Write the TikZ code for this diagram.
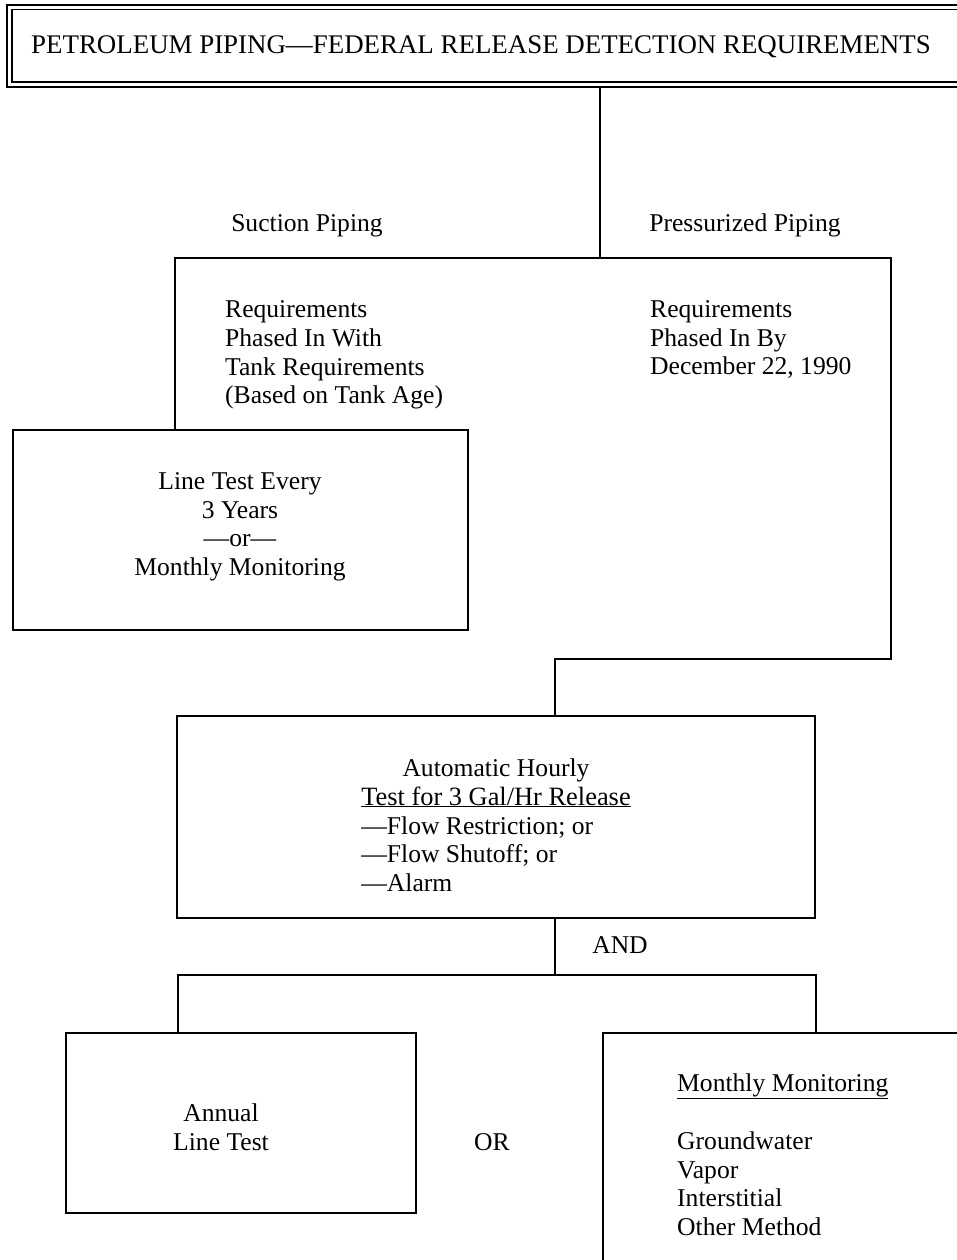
\documentclass[tikz,border=0pt]{standalone}
\usepackage{fontspec}
\setmainfont{Liberation Serif}
\begin{document}
\begin{tikzpicture}[x=1pt,y=-1pt,
  box/.style={draw, line width=2pt, inner sep=0pt},
  txt/.style={inner sep=0pt, anchor=base, font=\fontsize{25.6}{29}\selectfont},
  txtl/.style={txt, anchor=base west},
  ln/.style={line width=2pt}]
\useasboundingbox (0,0) rectangle (957,1260);
\begin{scope}
\clip (0,0) rectangle (957,1260);
% title
\node[box, line width=2.5pt, minimum width=968pt, minimum height=82pt] (title) at (491,46) {};
\draw[line width=1.5pt] ([shift={(6pt,-6pt)}]title.north west) rectangle ([shift={(-6pt,6pt)}]title.south east);
\node[txt, font=\fontsize{26.9}{29}\selectfont] (titletext) at (481,54) {PETROLEUM PIPING—FEDERAL RELEASE DETECTION REQUIREMENTS};
% boxes
\node[box, minimum width=455pt, minimum height=200pt] (linetest) at (240.5,530) {};
\node[box, minimum width=638pt, minimum height=202pt] (middle) at (496,817) {};
\node[box, minimum width=350pt, minimum height=180pt] (annual) at (241,1123) {};
\node[box, minimum width=377pt, minimum height=257pt] (monthly) at (791.5,1161.5) {};
% connectors
\coordinate (split) at (600,258);
\coordinate (lx) at (175,258);
\coordinate (c1) at (891,258);
\coordinate (c2) at (891,659);
\coordinate (c3) at (555,659);
\draw[ln] (title.south -| split) -- (split);
\draw[ln] (linetest.north -| lx) -- (lx) -- (c1) -- (c2) -- (c3) -- (middle.north -| c3);
\coordinate (b) at (555,975);
\coordinate (bl) at (178,975);
\coordinate (br) at (816,975);
\draw[ln] (middle.south -| b) -- (b);
\draw[ln] (annual.north -| bl) -- (bl) -- (br) -- (monthly.north -| br);
% labels
\node[txt] (suction) at (307,231) {Suction Piping};
\node[txt] (press) at (745,231) {Pressurized Piping};
\node[txtl] (r1) at (225,317) {Requirements};
\node[txtl] (r2) at (225,346) {Phased In With};
\node[txtl] (r3) at (225,375) {Tank Requirements};
\node[txtl] (r4) at (225,403) {(Based on Tank Age)};
\node[txtl] (p1) at (650,317) {Requirements};
\node[txtl] (p2) at (650,346) {Phased In By};
\node[txtl] (p3) at (650,374) {December 22, 1990};
\node[txt] (lt1) at (240,489) {Line Test Every};
\node[txt] (lt2) at (240,518) {3 Years};
\node[txt] (lt3) at (240,546) {—or—};
\node[txt] (lt4) at (240,575) {Monthly Monitoring};
\node[txt] (m1) at (496,776) {Automatic Hourly};
\node[txt, font=\fontsize{26.4}{29}\selectfont] (m2) at (496,805) {\underline{Test for 3 Gal/Hr Release}};
\node[txtl] (m3) at (m2.base west |- 0,834) {—Flow Restriction; or};
\node[txtl] (m4) at (m2.base west |- 0,862) {—Flow Shutoff; or};
\node[txtl] (m5) at (m2.base west |- 0,891) {—Alarm};
\node[txt] (and) at (620,953) {AND};
\node[txt] (a1) at (221,1121) {Annual};
\node[txt] (a2) at (221,1150) {Line Test};
\node[txt] (or) at (492,1150) {OR};
\node[txtl] (mm1) at (677,1091) {\underline{Monthly Monitoring}};
\node[txtl] (mm2) at (677,1149) {Groundwater};
\node[txtl] (mm3) at (677,1178) {Vapor};
\node[txtl] (mm4) at (677,1206) {Interstitial};
\node[txtl] (mm5) at (677,1235) {Other Method};
\end{scope}
\end{tikzpicture}
\end{document}
